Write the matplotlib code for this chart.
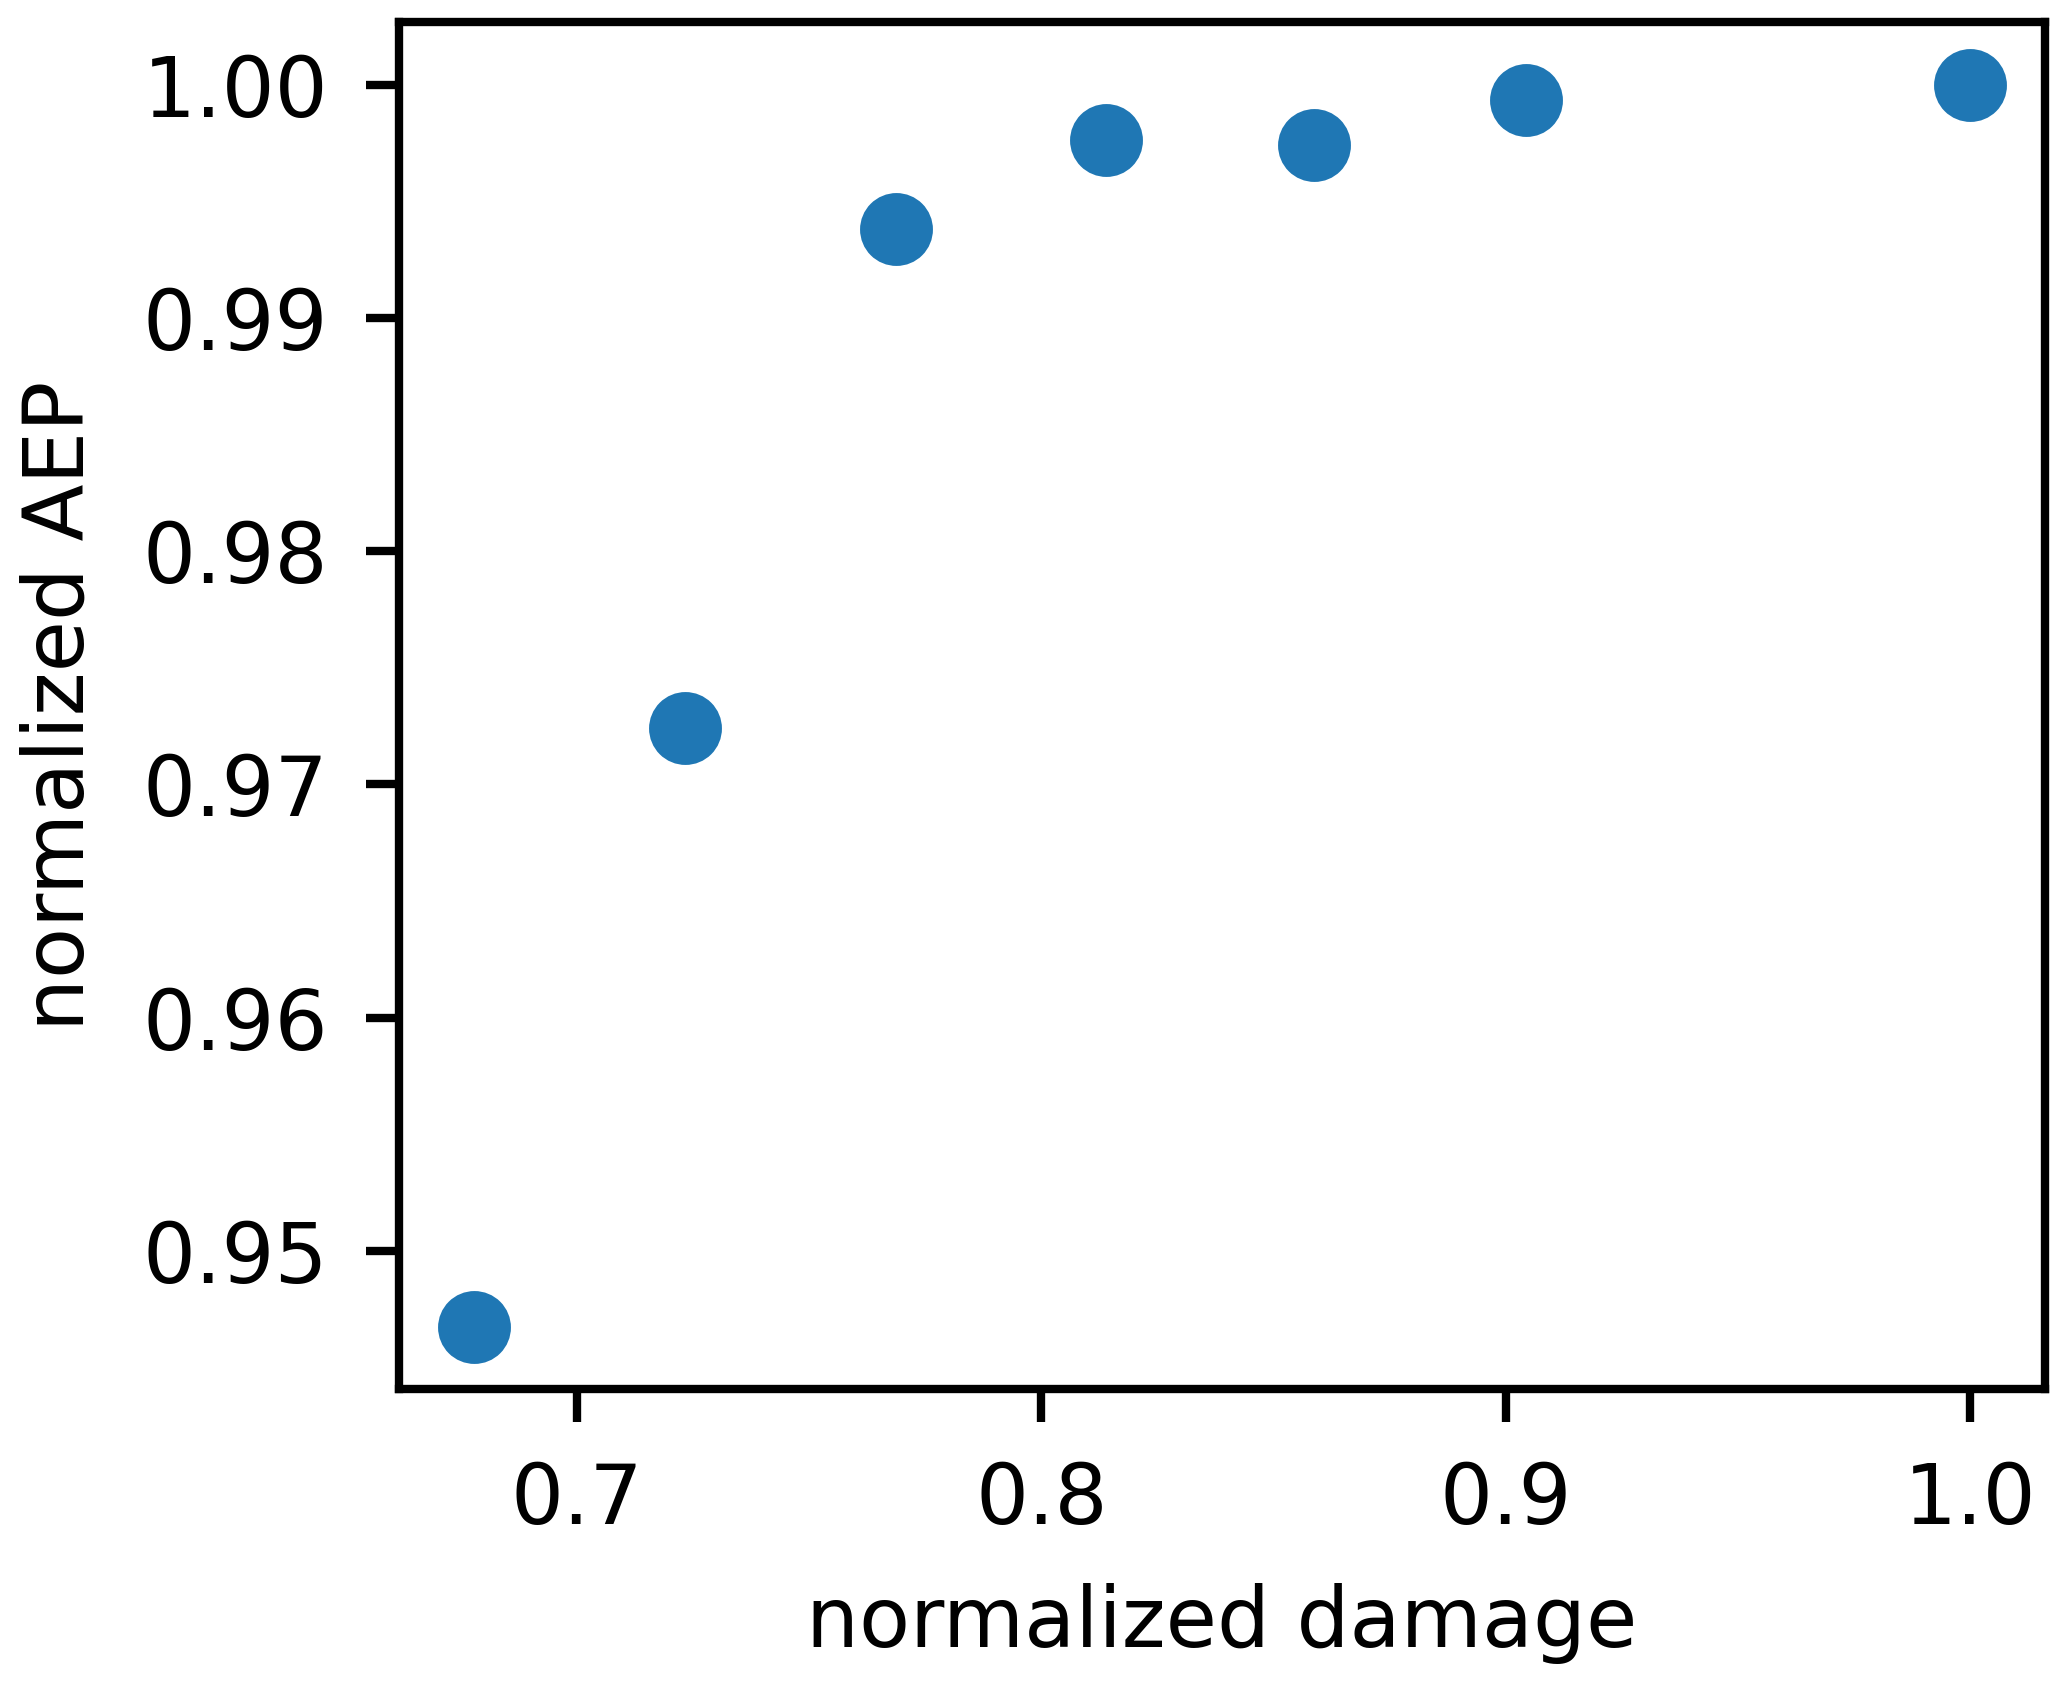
import matplotlib
matplotlib.use("Agg")
import matplotlib.pyplot as plt

damage = [0.6778, 0.7233, 0.7688, 0.8139, 0.8588, 0.9043, 1.0]
aep = [0.94673, 0.97243, 0.99379, 0.99763, 0.99740, 0.99932, 1.0]

plt.rcParams['font.family'] = ['DejaVu Sans']
fig = plt.figure(figsize=(2067 / 300, 1686 / 300), dpi=300)
ax = fig.add_axes([0.193, 0.1759, 0.9894 - 0.193, 0.9867 - 0.1759])
ax.scatter(damage, aep, s=306, color='#1f77b4', linewidths=0, zorder=3)

for sp in ax.spines.values():
    sp.set_linewidth(2.0)
ax.tick_params(axis='both', which='major', length=8, width=2.0, pad=9, labelsize=20)
ax.set_xticks([0.7, 0.8, 0.9, 1.0])
ax.set_yticks([0.95, 0.96, 0.97, 0.98, 0.99, 1.00])
ax.set_yticklabels(['0.95', '0.96', '0.97', '0.98', '0.99', '1.00'])
ax.set_xlabel('normalized damage', fontsize=20, labelpad=10)
ax.set_ylabel('normalized AEP', fontsize=20, labelpad=10)

fig.savefig('out.png', dpi=300)
